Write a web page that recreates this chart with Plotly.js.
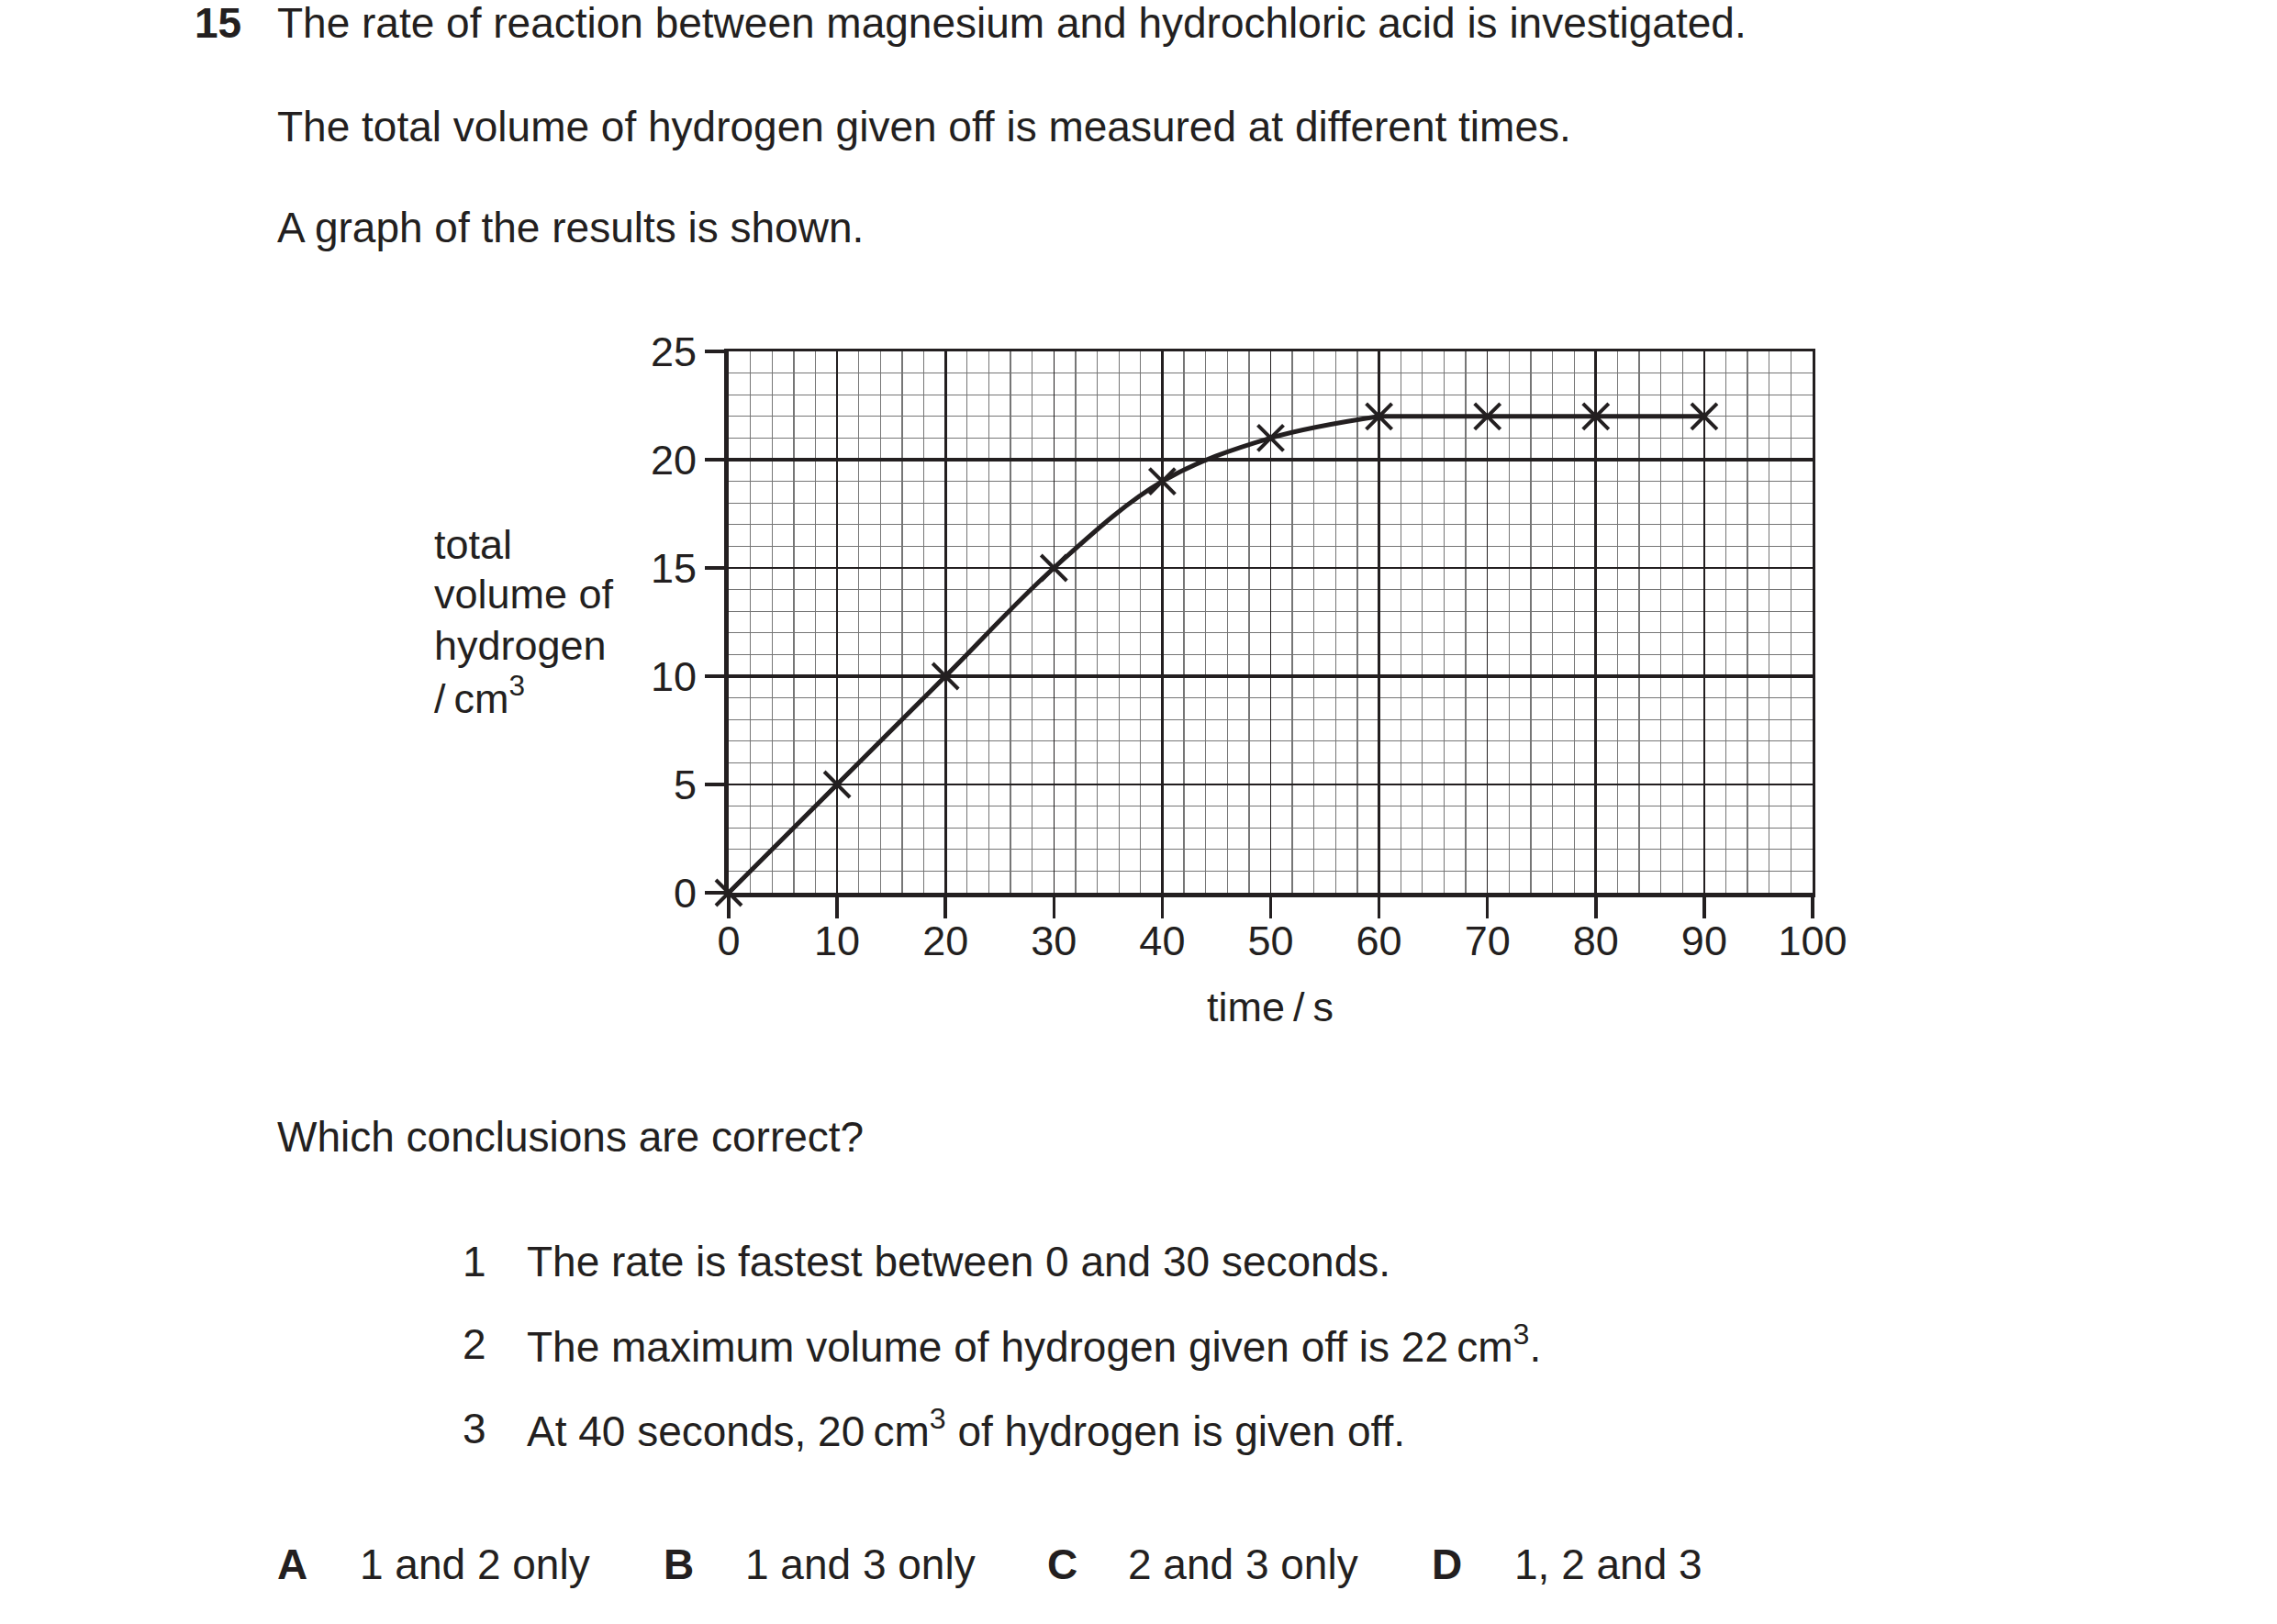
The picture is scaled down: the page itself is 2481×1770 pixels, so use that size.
<!DOCTYPE html>
<html>
<head>
<meta charset="utf-8">
<script src="https://cdn.plot.ly/plotly-3.0.1.min.js"></script>
<style>
  html, body { margin: 0; padding: 0; background: #fff; }
  #graph { width: 2481px; height: 1770px; }
</style>
</head>
<body>
<div id="graph"></div>
<script>
// results
var timeS = [0, 10, 20, 30, 40, 50, 60, 70, 80, 90];
var volumeCm3 = [0, 5, 10, 15, 19, 21, 22, 22, 22, 22];
var curveEnd = 6; // index where the curve levels off (60 s)

var questionLines = [
  'The rate of reaction between magnesium and hydrochloric acid is investigated.',
  'The total volume of hydrogen given off is measured at different times.',
  'A graph of the results is shown.'
];
var yTitleLines = ['total', 'volume of', 'hydrogen', '/\u2009cm<sup>3</sup>'];
var statements = [
  'The rate is fastest between 0 and 30 seconds.',
  'The maximum volume of hydrogen given off is 22\u2009cm<sup>3</sup>.',
  'At 40 seconds, 20\u2009cm<sup>3</sup> of hydrogen is given off.'
];
var optionLetters = ['A', 'B', 'C', 'D'];
var optionTexts = ['1 and 2 only', '1 and 3 only', '2 and 3 only', '1, 2 and 3'];

var ink = '#231f20';
var font = 'Liberation Sans, Arial, sans-serif';
var fs = 46;

// plot area in page pixels
var L = 794, R = 1975, T = 383, B = 973;
function px(x) { return (x - L) / (R - L); }
function py(y) { return (B - y) / (B - T); }

function note(text, x, y, opts) {
  var a = {
    text: text, xref: 'paper', yref: 'paper', x: px(x), y: py(y),
    xanchor: 'left', yanchor: 'middle', showarrow: false, align: 'left',
    font: {family: font, size: fs, color: ink}
  };
  for (var k in opts) a[k] = opts[k];
  return a;
}

var annotations = [];
annotations.push(note('<b>15</b>', 210, 25));
var qy = [25, 138, 248];
questionLines.forEach(function (t, i) { annotations.push(note(t, 300, qy[i])); });

var ty = [593, 647, 703, 758];
yTitleLines.forEach(function (t, i) { annotations.push(note(t, 471, ty[i], {font: {family: font, size: 45, color: ink}})); });
annotations.push(note('time\u2009/\u2009s', 1384, 1097, {xanchor: 'center', font: {family: font, size: 45, color: ink}}));

annotations.push(note('Which conclusions are correct?', 300, 1239));
var sy = [1375, 1465, 1557];
statements.forEach(function (t, i) {
  annotations.push(note(String(i + 1), 502, sy[i]));
  annotations.push(note(t, 572, sy[i]));
});

var letterX = [300, 721, 1139, 1558];
var optX = [390, 810, 1227, 1648];
optionLetters.forEach(function (l, i) {
  annotations.push(note('<b>' + l + '</b>', letterX[i], 1705));
  annotations.push(note(optionTexts[i], optX[i], 1705));
});

var rising = {
  x: timeS.slice(0, curveEnd + 1), y: volumeCm3.slice(0, curveEnd + 1),
  type: 'scatter', mode: 'lines',
  line: {color: ink, width: 5, shape: 'spline', smoothing: 1},
  hoverinfo: 'skip'
};
var level = {
  x: timeS.slice(curveEnd), y: volumeCm3.slice(curveEnd),
  type: 'scatter', mode: 'lines',
  line: {color: ink, width: 5},
  hoverinfo: 'skip'
};
var crosses = {
  x: timeS, y: volumeCm3, xaxis: 'x2', yaxis: 'y2', type: 'scatter', mode: 'markers',
  marker: {symbol: 'x-thin-open', size: 28, color: ink, line: {color: ink, width: 4}},
  cliponaxis: false, hoverinfo: 'skip'
};

var layout = {
  width: 2481, height: 1770,
  margin: {l: L, r: 2481 - R, t: T, b: 1770 - B, pad: 0},
  paper_bgcolor: '#fff', plot_bgcolor: '#fff',
  showlegend: false,
  font: {family: font, size: 45, color: ink},
  xaxis: {
    range: [0, 100], dtick: 10, tick0: 0, fixedrange: true,
    showgrid: true, gridcolor: ink, gridwidth: 1.6, zeroline: false,
    showline: true, linecolor: ink, linewidth: 5,
    ticks: 'outside', ticklen: 23, tickwidth: 3.5, tickcolor: ink,
    ticklabelstandoff: -14,
    tickfont: {family: font, size: 45, color: ink},
    minor: {dtick: 2, showgrid: true, gridcolor: '#767676', gridwidth: 1.3, ticks: ''}
  },
  yaxis: {
    range: [0, 25], dtick: 5, tick0: 0, fixedrange: true,
    showgrid: true, gridcolor: ink, gridwidth: 1.6, zeroline: false,
    showline: true, linecolor: ink, linewidth: 5,
    ticks: 'outside', ticklen: 21, tickwidth: 3.5, tickcolor: ink,
    tickfont: {family: font, size: 45, color: ink},
    minor: {dtick: 1, showgrid: true, gridcolor: '#767676', gridwidth: 1.3, ticks: ''}
  },
  xaxis2: {
    overlaying: 'x', anchor: 'y2', side: 'top', range: [0, 100], dtick: 20, tick0: 0,
    showgrid: true, gridcolor: ink, gridwidth: 3.2, zeroline: false,
    showline: true, linecolor: ink, linewidth: 3, ticks: '', showticklabels: false, fixedrange: true
  },
  yaxis2: {
    overlaying: 'y', anchor: 'x2', side: 'right', range: [0, 25], dtick: 10, tick0: 0,
    showgrid: true, gridcolor: ink, gridwidth: 3.2, zeroline: false,
    showline: true, linecolor: ink, linewidth: 3, ticks: '', showticklabels: false, fixedrange: true
  },
  annotations: annotations
};

Plotly.newPlot('graph', [rising, level, crosses], layout, {displayModeBar: false, staticPlot: true});
</script>
</body>
</html>
